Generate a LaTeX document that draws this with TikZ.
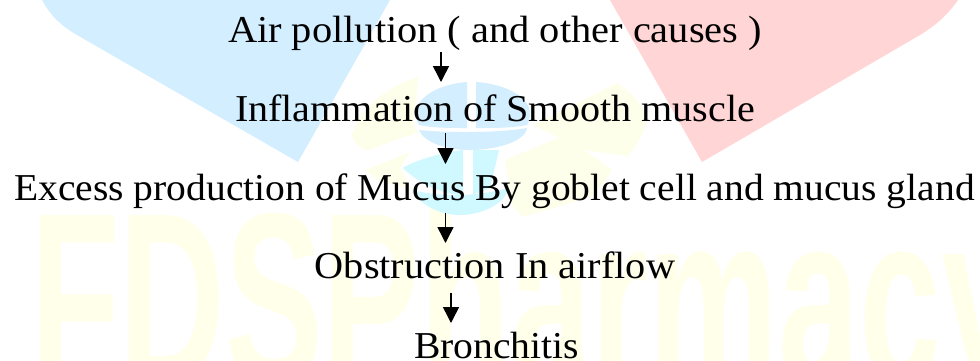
\documentclass[tikz,border=0pt]{standalone}
\usepackage{fontspec}
\setmainfont{Liberation Serif}
\newfontfamily\wmfont{Liberation Sans}
\usetikzlibrary{arrows.meta}
\definecolor{wmblue}{HTML}{D2EEFF}
\definecolor{wmred}{HTML}{FFD5D5}
\definecolor{wmcyan}{HTML}{CFF9FF}
\definecolor{wmyellow}{HTML}{FFFFEA}
\definecolor{wmyellowb}{HTML}{FEFFEA}
\tikzset{
  x=1pt,y=-1pt,
  stage/.style={anchor=base,inner sep=0pt,outer sep=0pt,text height=26pt,text depth=8pt,font=\fontsize{38}{42}\selectfont},
  flow/.style={draw=black,line width=1.5pt,-{Triangle[length=16pt,width=16pt]}}
}
\begin{document}
\begin{tikzpicture}
\path[use as bounding box,clip] (0,0) rectangle (980,360);
\fill[white] (0,0) rectangle (980,360);
% watermark
\fill[wmblue] (42,0) .. controls (52,18) and (62,26) .. (77,35) -- (298,162) -- (390,0) -- cycle;
\fill[wmred] (610,0) -- (702,162) -- (920,35) .. controls (938,24) and (948,14) .. (958,0) -- cycle;
\node[anchor=base west,inner sep=0pt,text=wmyellow,font=\wmfont\bfseries\fontsize{244}{244}\selectfont,xscale=.6] (wm) at (30,383) {FDSPharmacy};
\fill[wmyellowb] (352,135) .. controls (360,108) and (385,88) .. (418,77) -- (415,112) .. controls (412,122) and (414,130) .. (419,132) -- (368,150) .. controls (358,148) and (353,142) .. (352,135) -- cycle;
\fill[wmyellowb] (365,170) -- (410,152) -- (400,168) -- (412,190) -- (378,180) -- cycle;
\fill[wmyellowb] (533,125) -- (617,83) .. controls (632,92) and (644,106) .. (647,120) .. controls (644,135) and (636,147) .. (628,156) -- (585,150) -- cycle;
\fill[wmyellowb] (505,160) -- (565,135) -- (612,170) .. controls (605,182) and (597,192) .. (590,197) -- (523,217) -- (512,205) -- cycle;
\fill[wmblue] (467,82) .. controls (440,84) and (418,96) .. (416,112) .. controls (416,118) and (417,122) .. (419,125) .. controls (432,128) and (450,128) .. (467,128) -- cycle;
\fill[wmblue] (476,82) .. controls (505,84) and (528,96) .. (530,112) .. controls (530,118) and (529,122) .. (527,125) .. controls (512,128) and (495,128) .. (476,128) -- cycle;
\fill[wmblue] (419,130) .. controls (445,133) and (500,133) .. (527,128) .. controls (525,142) and (495,150) .. (470,150) .. controls (445,150) and (424,142) .. (419,130) -- cycle;
\fill[wmcyan] (403,168) .. controls (415,160) and (445,152) .. (463,150) -- (463,195) .. controls (440,195) and (415,180) .. (403,168) -- cycle;
\fill[wmcyan] (473,150) -- (499,150) -- (490,188) -- (473,195) -- cycle;
\fill[wmcyan] (412,190) .. controls (445,198) and (480,196) .. (508,188) .. controls (505,205) and (480,215) .. (460,215) .. controls (440,215) and (420,205) .. (412,190) -- cycle;
% stages
\node[stage] (air) at (495,42) {\scalebox{1.063}[1]{Air pollution ( and other causes )}};
\node[stage] (infl) at (495,121) {\scalebox{1.055}[1]{Inflammation of Smooth muscle}};
\node[stage] (excess) at (494.5,200.5) {\scalebox{1.04}[1]{Excess production of Mucus By goblet cell and mucus gland}};
\node[stage] (obst) at (495,278) {\scalebox{1.06}[1]{Obstruction In airflow}};
\node[stage] (bron) at (496.5,358) {\scalebox{1.042}[1]{Bronchitis}};
\draw[flow] ([xshift=-54pt,yshift=-2pt]air.south) -- ([xshift=-54pt,yshift=13pt]infl.north);
\draw[flow] ([xshift=-49.5pt,yshift=-4pt]infl.south) -- ([xshift=-49pt,yshift=10.5pt]excess.north);
\draw[flow] ([xshift=-49pt,yshift=-4.5pt]excess.south) -- ([xshift=-49.5pt,yshift=9pt]obst.north);
\draw[flow] ([xshift=-44pt,yshift=-7pt]obst.south) -- ([xshift=-45.5pt,yshift=9pt]bron.north);
\end{tikzpicture}
\end{document}
